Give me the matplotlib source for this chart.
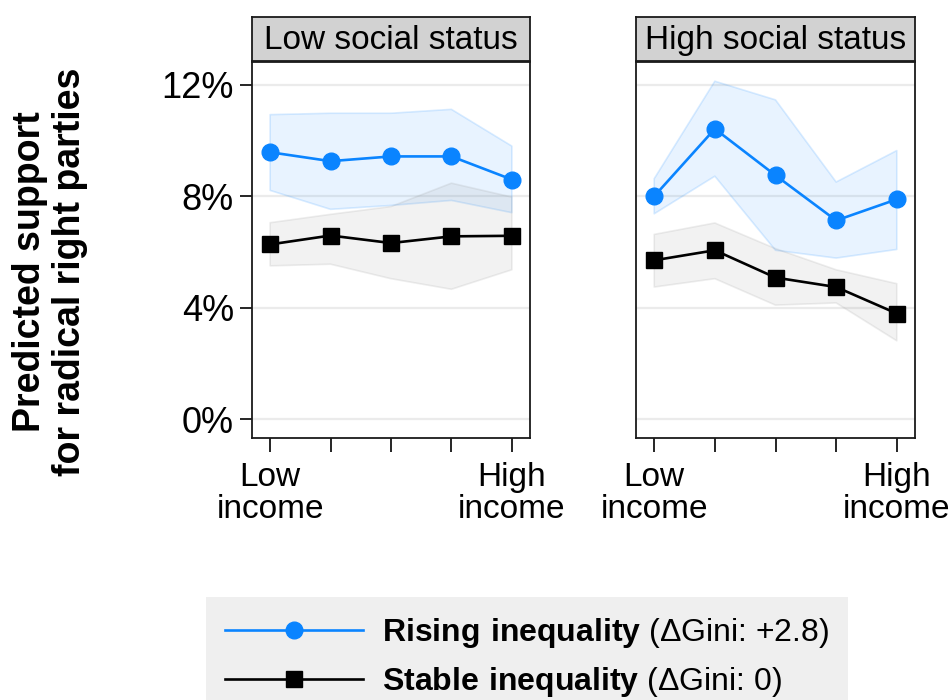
import numpy as np
import matplotlib
matplotlib.use("Agg")
import matplotlib.pyplot as plt

plt.rcParams['font.family'] = ['Liberation Sans', 'DejaVu Sans']
plt.rcParams['mathtext.fontset'] = 'custom'
plt.rcParams['mathtext.rm'] = 'Liberation Sans'
plt.rcParams['mathtext.bf'] = 'Liberation Sans:bold'

# ---------------------------------------------------------------------------
# data (predicted support, %)
# ---------------------------------------------------------------------------
income = [1, 2, 3, 4, 5]
income_labels = ["Low\nincome", "", "", "", "High\nincome"]
panels = ["Low social status", "High social status"]

rising_low = [9.58, 9.26, 9.43, 9.43, 8.60]
rising_low_hi = [10.93, 10.98, 10.98, 11.12, 9.80]
rising_low_lo = [8.21, 7.53, 7.67, 7.85, 7.41]
stable_low = [6.27, 6.59, 6.32, 6.56, 6.58]
stable_low_hi = [7.05, 7.35, 7.63, 8.47, 7.97]
stable_low_lo = [5.50, 5.56, 5.04, 4.66, 5.36]

rising_high = [8.00, 10.42, 8.75, 7.13, 7.89]
rising_high_hi = [8.63, 12.13, 11.46, 8.51, 9.64]
rising_high_lo = [7.37, 8.72, 6.06, 5.78, 6.09]
stable_high = [5.70, 6.06, 5.08, 4.74, 3.79]
stable_high_hi = [6.63, 7.04, 6.12, 5.36, 4.86]
stable_high_lo = [4.74, 5.04, 4.09, 4.17, 2.81]

yticks = [0, 4, 8, 12]

BLUE = '#0a84ff'
BLACK = '#000000'

W, H = 951, 700
fig = plt.figure(figsize=(W / 100, H / 100), dpi=100)


def px_box(x0, y0, x1, y1):
    """pixel box (top-left origin) -> figure fraction rect"""
    return [x0 / W, 1 - y1 / H, (x1 - x0) / W, (y1 - y0) / H]


panel_data = [
    (rising_low, rising_low_lo, rising_low_hi, stable_low, stable_low_lo, stable_low_hi),
    (rising_high, rising_high_lo, rising_high_hi, stable_high, stable_high_lo, stable_high_hi),
]
x_px = [(252, 530), (636, 915)]

axes = []
for i, (title, data) in enumerate(zip(panels, panel_data)):
    r, r_lo, r_hi, s, s_lo, s_hi = data
    xa, xb = x_px[i]
    ax = fig.add_axes(px_box(xa, 62, xb, 438))
    axes.append(ax)

    for yv in yticks:
        ax.axhline(yv, color='#ebebeb', lw=1.6, zorder=0)

    # confidence bands
    ax.fill_between(income, r_lo, r_hi, facecolor=BLUE, alpha=0.09, lw=0, zorder=1)
    ax.fill_between(income, r_lo, r_hi, facecolor='none', edgecolor=BLUE, alpha=0.15, lw=1.2, zorder=1)
    ax.fill_between(income, s_lo, s_hi, facecolor='#8c8c8c', alpha=0.11, lw=0, zorder=1)
    ax.fill_between(income, s_lo, s_hi, facecolor='none', edgecolor='#8c8c8c', alpha=0.15, lw=1.2, zorder=1)

    ax.plot(income, r, color=BLUE, lw=1.9, marker='o', ms=12, zorder=3,
            label=r"$\mathbf{Rising\ inequality}$ (ΔGini: +2.8)")
    ax.plot(income, s, color=BLACK, lw=1.9, marker='s', ms=11.5, zorder=3,
            label=r"$\mathbf{Stable\ inequality}$ (ΔGini: 0)")

    ax.set_xlim(0.7, 5.3)
    ax.set_ylim(-0.68, 12.82)
    ax.set_xticks(income)
    ax.set_xticklabels(income_labels, fontsize=24, linespacing=1.05)
    ax.tick_params(axis='x', length=10, width=1.2, pad=7)
    if i == 0:
        ax.set_yticks(yticks)
        ax.set_yticklabels([f"{v}%" for v in yticks], fontsize=26)
        ax.tick_params(axis='y', length=9, width=1.2, pad=4)
    else:
        ax.set_yticks([])
    for sp in ax.spines.values():
        sp.set_linewidth(1.3)
        sp.set_color('#1a1a1a')

    # panel header strip
    hx = fig.add_axes(px_box(xa, 17, xb, 61))
    hx.set_facecolor('#d2d2d2')
    hx.set_xticks([])
    hx.set_yticks([])
    for sp in hx.spines.values():
        sp.set_linewidth(1.3)
        sp.set_color('#1a1a1a')
    hx.text(0.5, 0.47, title, ha='center', va='center', fontsize=24, transform=hx.transAxes)

fig.text(50 / W, 1 - 272 / H, "Predicted support\nfor radical right parties",
         rotation=90, ha='center', va='center', fontsize=27, fontweight='bold',
         linespacing=1.15)

handles, labels = axes[0].get_legend_handles_labels()
leg = fig.legend(handles, labels, loc='upper center', bbox_to_anchor=(527 / W, 1 - 597 / H),
                 fontsize=23, frameon=True, facecolor='#efefef', edgecolor='none',
                 fancybox=False, handlelength=4.3, handletextpad=0.6, labelspacing=0.47,
                 borderpad=0.6, borderaxespad=0, markerscale=1.0)
leg.get_frame().set_alpha(1)

fig.savefig("out.png", dpi=100)
